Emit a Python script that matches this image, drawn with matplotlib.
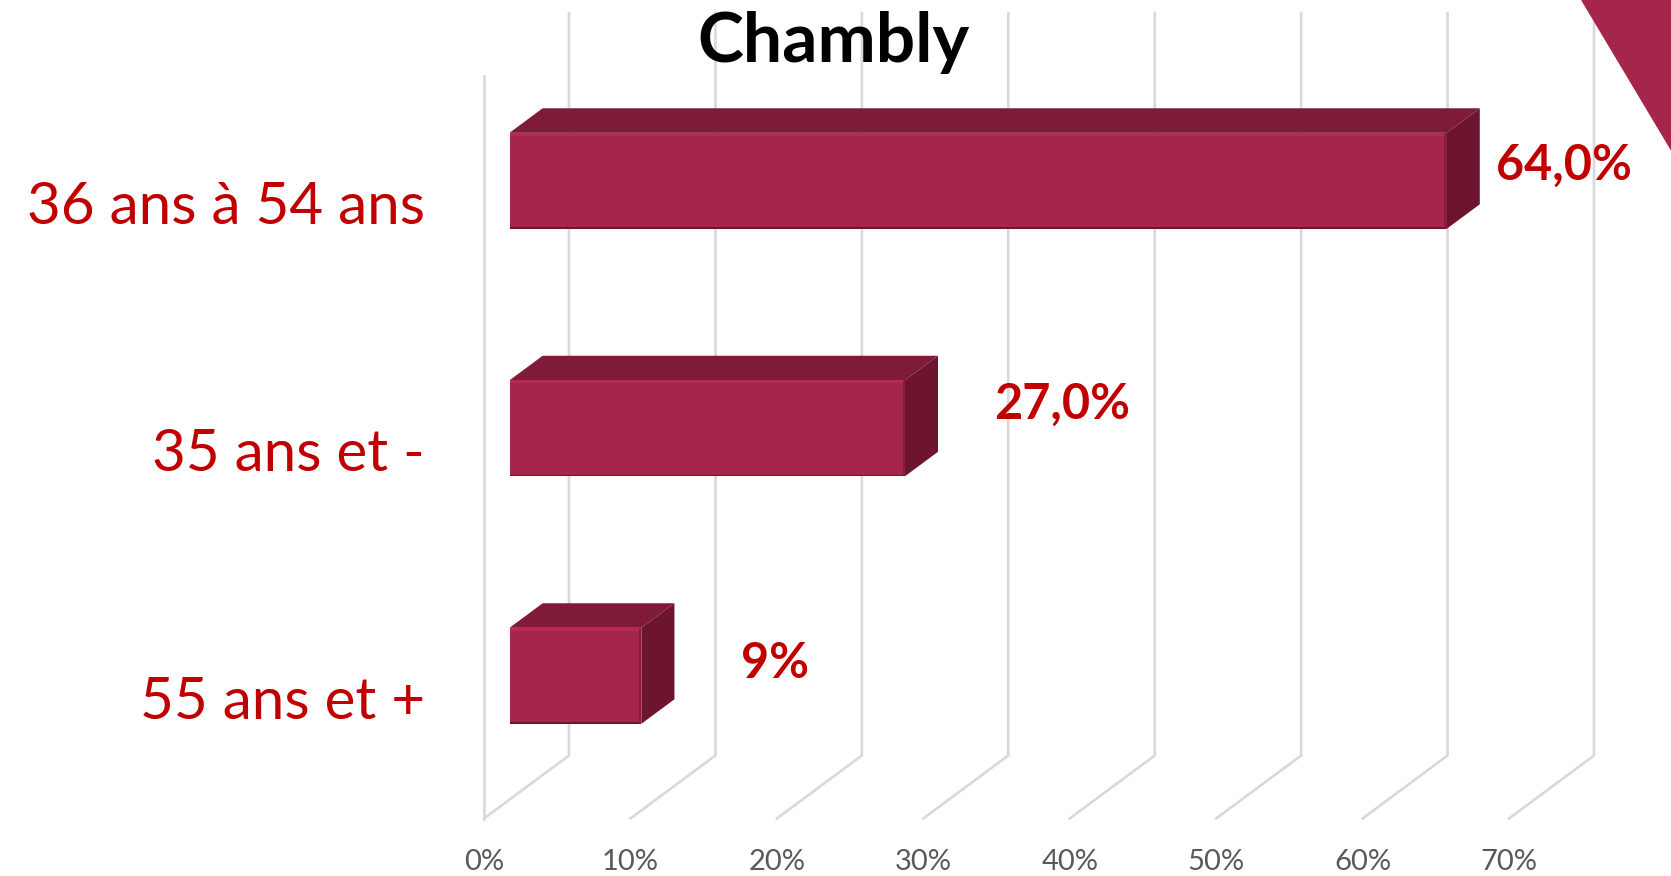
import matplotlib
matplotlib.use("Agg")
import matplotlib.pyplot as plt
from matplotlib.patches import Polygon

categories = ["55 ans et +", "35 ans et -", "36 ans à 54 ans"]
values = [9.0, 27.0, 64.0]
value_labels = ["9%", "27,0%", "64,0%"]
ticks = [0, 10, 20, 30, 40, 50, 60, 70]
tick_labels = ["0%", "10%", "20%", "30%", "40%", "50%", "60%", "70%"]

W, H = 1671, 876
# front plane of the chart, in pixels
LEFT, RIGHT, TOP, BOTTOM = 484, 1509, 76, 818.5
XMAX = 70
PX_X = (RIGHT - LEFT) / XMAX
PX_Y = BOTTOM - TOP
# how far the back wall is shifted from the front plane
DEPTH_X = 85 / PX_X
DEPTH_Y = 63 / (PX_Y / 3)

RED = "#c00000"
FRONT = "#a6254a"
TOP_FACE = "#7f1a38"
SIDE = "#6d152f"
GRID = "#d9d9d9"

plt.rcParams["font.family"] = ["Lato", "DejaVu Sans"]

fig = plt.figure(figsize=(W / 100, H / 100), dpi=100)
ax = fig.add_axes([LEFT / W, 1 - BOTTOM / H, (RIGHT - LEFT) / W, PX_Y / H])
ax.set_xlim(0, XMAX)
ax.set_ylim(0, len(categories))
ax.axis("off")


def project(x, y, d):
    return x + d * DEPTH_X, y + d * DEPTH_Y


def face(points, color, z=3):
    pts = [project(*p) for p in points]
    ax.add_patch(Polygon(pts, closed=True, fc=color, ec="none", zorder=z, clip_on=False))


# corner decoration, the grid stays visible over it
fig.patches.append(Polygon([(1581 / W, 1), (1.001, 1), (1.001, 1 - 154 / H)], closed=True,
                           fc=FRONT, ec="none", transform=fig.transFigure, zorder=0))

# back wall grid
for t in ticks:
    bx, by = project(t, 0, 1)
    tx, ty = project(t, len(categories), 1)
    ax.plot([t, bx, tx], [0, by, ty], color=GRID, lw=1.9, zorder=1, clip_on=False,
            solid_joinstyle="miter")
ax.plot([0, 0], [0, len(categories)], color=GRID, lw=1.9, zorder=1, clip_on=False)

# bars with an oblique 3D look
d0, d1 = 0.30, 0.69
half = 0.194
strip_y = 0.012
for i, (cat, val) in enumerate(zip(categories, values)):
    yc = i + 0.5
    y0, y1 = yc - half, yc + half
    face([(0, y1, d0), (val, y1, d0), (val, y1, d1), (0, y1, d1)], TOP_FACE)
    face([(val, y0, d0), (val, y1, d0), (val, y1, d1), (val, y0, d1)], SIDE)
    face([(0, y0, d0), (val, y0, d0), (val, y1, d0), (0, y1, d0)], FRONT, z=4)
    # bevel: light edge on top, dark edges at the bottom and right
    face([(0, y1 - strip_y, d0), (val, y1 - strip_y, d0), (val, y1, d0), (0, y1, d0)], "#b82a53", z=5)
    face([(0, y0, d0), (val, y0, d0), (val, y0 + 0.006, d0), (0, y0 + 0.006, d0)], "#6d152f", z=5)
    face([(val - 0.15, y0, d0), (val, y0, d0), (val, y1, d0), (val - 0.15, y1, d0)], "#8a1c3d", z=5)
    ax.annotate(cat, (0, yc), xytext=(-59 * 0.72, -7.5 * 0.72), textcoords="offset points",
                ha="right", va="center", color=RED, fontsize=42, clip_on=False)

# data labels were moved by hand in the original
label_offsets = [(134, 12), (157, 24), (117, 16)]
for i, (val, lab, off) in enumerate(zip(values, value_labels, label_offsets)):
    ax.annotate(lab, project(val, i + 0.5, d0), xytext=(off[0] * 0.72, off[1] * 0.72),
                textcoords="offset points", ha="center", va="center", color=RED,
                fontsize=35, fontweight="bold", zorder=6)

for t, lab in zip(ticks, tick_labels):
    ax.annotate(lab, (t, 0), xytext=(0, -44 * 0.72), textcoords="offset points", ha="center",
                va="center", color="#595959", fontsize=21)

fig.text(833 / W, 1 - 42 / H, "Chambly", ha="center", va="center", color="black",
         fontsize=50, fontweight="bold")

fig.savefig("out.png", dpi=100)
